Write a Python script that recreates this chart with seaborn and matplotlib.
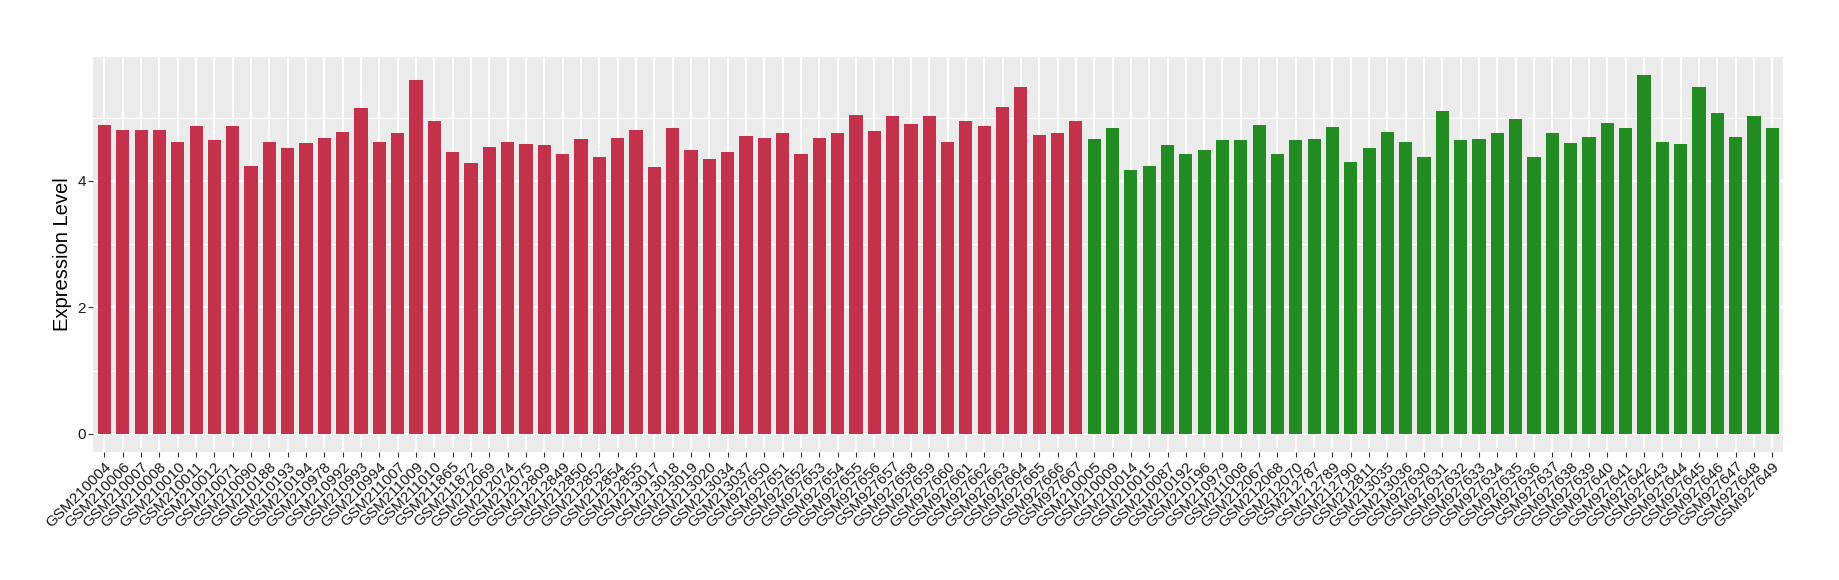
import matplotlib
matplotlib.use("Agg")
import matplotlib.pyplot as plt
import seaborn as sns
import pandas as pd
from matplotlib.ticker import MultipleLocator

red_samples = [
    "GSM210004", "GSM210006", "GSM210007", "GSM210008", "GSM210010", "GSM210011",
    "GSM210012", "GSM210071", "GSM210090", "GSM210188", "GSM210193", "GSM210194",
    "GSM210978", "GSM210992", "GSM210993", "GSM210994", "GSM211007", "GSM211009",
    "GSM211010", "GSM211865", "GSM211872", "GSM212069", "GSM212074", "GSM212075",
    "GSM212809", "GSM212849", "GSM212850", "GSM212852", "GSM212854", "GSM212855",
    "GSM213017", "GSM213018", "GSM213019", "GSM213020", "GSM213034", "GSM213037",
    "GSM927650", "GSM927651", "GSM927652", "GSM927653", "GSM927654", "GSM927655",
    "GSM927656", "GSM927657", "GSM927658", "GSM927659", "GSM927660", "GSM927661",
    "GSM927662", "GSM927663", "GSM927664", "GSM927665", "GSM927666", "GSM927667",
]
red_values = [
    4.89, 4.81, 4.81, 4.81, 4.62, 4.87, 4.65, 4.87, 4.24, 4.62, 4.52, 4.60,
    4.68, 4.78, 5.16, 4.62, 4.75, 5.60, 4.94, 4.45, 4.29, 4.54, 4.62, 4.59,
    4.56, 4.43, 4.67, 4.38, 4.68, 4.81, 4.22, 4.84, 4.49, 4.35, 4.45, 4.71,
    4.68, 4.76, 4.43, 4.68, 4.76, 5.05, 4.79, 5.03, 4.90, 5.03, 4.62, 4.95,
    4.87, 5.17, 5.48, 4.73, 4.75, 4.95,
]
green_samples = [
    "GSM210005", "GSM210009", "GSM210014", "GSM210015", "GSM210087", "GSM210192",
    "GSM210196", "GSM210979", "GSM211008", "GSM212067", "GSM212068", "GSM212070",
    "GSM212787", "GSM212789", "GSM212790", "GSM212811", "GSM213035", "GSM213036",
    "GSM927630", "GSM927631", "GSM927632", "GSM927633", "GSM927634", "GSM927635",
    "GSM927636", "GSM927637", "GSM927638", "GSM927639", "GSM927640", "GSM927641",
    "GSM927642", "GSM927643", "GSM927644", "GSM927645", "GSM927646", "GSM927647",
    "GSM927648", "GSM927649",
]
green_values = [
    4.67, 4.83, 4.18, 4.24, 4.56, 4.43, 4.49, 4.65, 4.64, 4.89, 4.43, 4.64,
    4.67, 4.86, 4.30, 4.52, 4.78, 4.62, 4.37, 5.10, 4.64, 4.67, 4.76, 4.98,
    4.38, 4.75, 4.60, 4.70, 4.92, 4.84, 5.68, 4.62, 4.59, 5.49, 5.08, 4.70,
    5.03, 4.83,
]
group_names = ["A", "B"]
group_colors = {"A": "#C3314A", "B": "#228B22"}
y_label = "Expression Level"

df = pd.DataFrame({
    "sample": red_samples + green_samples,
    "value": red_values + green_values,
    "group": [group_names[0]] * len(red_samples) + [group_names[1]] * len(green_samples),
})

plt.rcParams["font.family"] = ["Liberation Sans", "DejaVu Sans"]

fig = plt.figure(figsize=(18.4, 5.8), dpi=100)
ax = fig.add_axes([0.0508, 0.2212, 0.9184, 0.681])
ax.set_facecolor("#EBEBEB")

sns.barplot(data=df, x="sample", y="value", hue="group", palette=group_colors,
            dodge=False, width=0.72, saturation=1, legend=False, ax=ax, zorder=3)

n = len(df)
ymax = df["value"].max()
ax.set_xlim(-0.6, n - 1 + 0.6)
ax.set_ylim(-0.05 * ymax, ymax * 1.05)

ax.yaxis.set_major_locator(MultipleLocator(2))
ax.yaxis.set_minor_locator(MultipleLocator(1))
ax.grid(which="major", axis="both", color="white", linewidth=1.4, zorder=0)
ax.grid(which="minor", axis="y", color="white", linewidth=0.7, zorder=0)
ax.set_axisbelow(True)
for s in ax.spines.values():
    s.set_visible(False)

ax.tick_params(axis="both", which="major", length=3.5, width=0.8, color="#333333",
               labelsize=11, labelcolor="#1a1a1a", pad=2)
ax.tick_params(axis="y", which="minor", length=0)
ax.set_xticks(range(n))
ax.set_xticklabels(df["sample"], rotation=45, ha="right", rotation_mode="anchor")

ax.set_xlabel("")
ax.set_ylabel(y_label, fontsize=14.5, color="black", labelpad=4)

fig.savefig("out.png", dpi=100, facecolor="white")
